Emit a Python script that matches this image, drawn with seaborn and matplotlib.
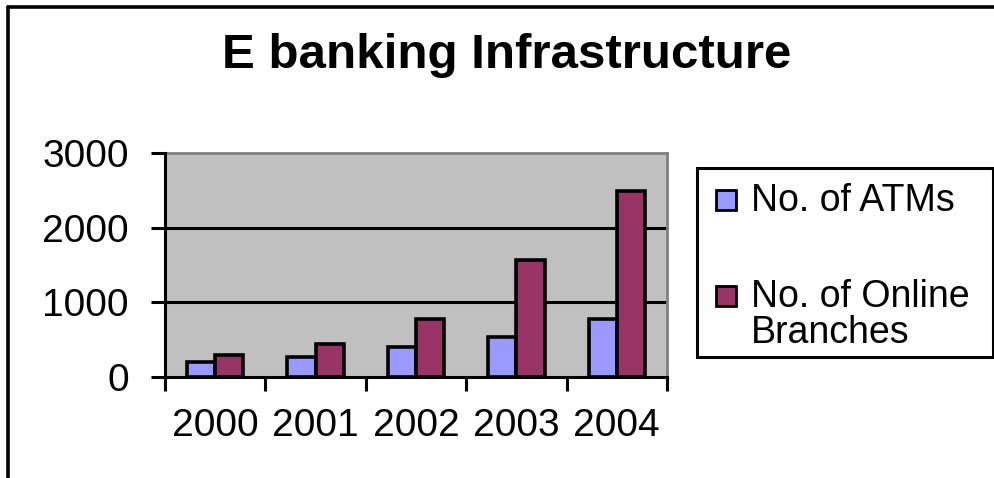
import matplotlib
matplotlib.use("Agg")
import matplotlib.pyplot as plt
import seaborn as sns
import pandas as pd
from matplotlib.patches import Rectangle
from matplotlib.lines import Line2D

years = ["2000", "2001", "2002", "2003", "2004"]
atms = [200, 270, 400, 540, 780]
online_branches = [300, 440, 780, 1570, 2490]
series_names = ["No. of ATMs", "No. of Online\nBranches"]
colors = ["#9999FF", "#993366"]
y_ticks = [0, 1000, 2000, 3000]

df = pd.DataFrame({
    "Year": years * 2,
    "Value": atms + online_branches,
    "Series": [series_names[0]] * len(years) + [series_names[1]] * len(years),
})

sns.set_style("white")
plt.rcParams["font.family"] = ["Liberation Sans", "DejaVu Sans"]
plt.rcParams["text.color"] = "black"
plt.rcParams["xtick.color"] = "black"
plt.rcParams["ytick.color"] = "black"

W, H = 995, 478
fig = plt.figure(figsize=(W / 100, H / 100), dpi=100)
fig.patch.set_facecolor("white")


def fx(px):
    return px / W


def fy(py):
    return 1 - py / H


ax = fig.add_axes([fx(165), fy(377), (667 - 165) / W, (377 - 153) / H])
ax.set_facecolor("#C0C0C0")

sns.barplot(data=df, x="Year", y="Value", hue="Series", order=years,
            hue_order=series_names, palette=colors, width=0.56, gap=0,
            edgecolor="black", linewidth=2.6, saturation=1, legend=False,
            ax=ax, zorder=3)

ax.set_xlim(-0.5, len(years) - 0.5)
ax.set_ylim(0, 3000)
ax.set_yticks(y_ticks)
ax.set_yticklabels([str(v) for v in y_ticks], fontsize=28)
ax.set_xlabel("")
ax.set_ylabel("")

# horizontal gridlines
for v in y_ticks[1:-1]:
    ax.axhline(v, color="black", linewidth=2.2, zorder=1)

# category labels at centres, tick marks at category boundaries
ax.set_xticks(range(len(years)))
ax.set_xticklabels(years, fontsize=28)
ax.set_xticks([i - 0.5 for i in range(len(years) + 1)], minor=True)
ax.tick_params(axis="x", which="major", length=0, pad=22)
ax.tick_params(axis="x", which="minor", length=10, width=2.2, color="black",
               direction="out", bottom=True)
ax.tick_params(axis="y", which="major", length=10, width=2.2, color="black",
               direction="out", left=True, pad=16)

for side in ["left", "bottom"]:
    ax.spines[side].set_color("black")
    ax.spines[side].set_linewidth(2.2)
    ax.spines[side].set_zorder(4)
for side in ["top", "right"]:
    ax.spines[side].set_visible(True)
    ax.spines[side].set_color("#808080")
    ax.spines[side].set_linewidth(2)

fig.text(fx(507), fy(55), "E banking Infrastructure", fontsize=35.5,
         fontweight="bold", ha="center", va="center", color="black")

# legend box with a swatch aligned to the first line of each label
fig.add_artist(Rectangle((fx(697), fy(357)), (993 - 697) / W, (357 - 168) / H,
                         facecolor="white", edgecolor="black", linewidth=2.2,
                         transform=fig.transFigure))
swatch_tops = [190, 286]
label_centres = [201, 315]
for color, name, top, centre in zip(colors, series_names, swatch_tops,
                                    label_centres):
    fig.add_artist(Rectangle((fx(716), fy(top + 20)), 20 / W, 20 / H,
                             facecolor=color, edgecolor="black",
                             linewidth=2, transform=fig.transFigure))
    fig.text(fx(751), fy(centre), name, fontsize=27, ha="left", va="center",
             linespacing=0.98, color="black")

# outer chart frame (top and left edges)
fig.add_artist(Line2D([fx(8), 1], [fy(7), fy(7)], color="black",
                      linewidth=2.6, transform=fig.transFigure))
fig.add_artist(Line2D([fx(8), fx(8)], [0, fy(7)], color="black",
                      linewidth=2.6, transform=fig.transFigure))

fig.savefig("out.png", dpi=100)
